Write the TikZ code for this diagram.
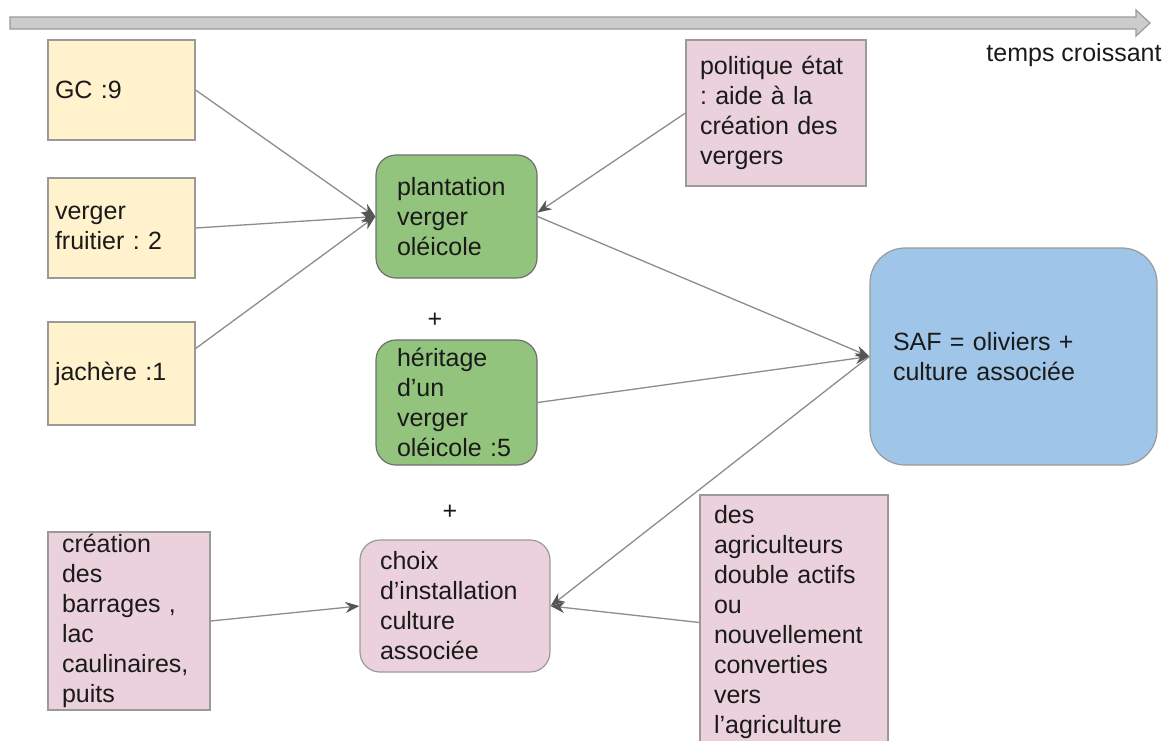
\documentclass[tikz,border=0pt]{standalone}
\usepackage{fontspec}
\setmainfont{Liberation Sans}
\usetikzlibrary{arrows.meta}
\usetikzlibrary{positioning}
\frenchspacing

\definecolor{jaune}{HTML}{FFF2CC}
\definecolor{vert}{HTML}{93C47D}
\definecolor{rose}{HTML}{EAD1DC}
\definecolor{bleu}{HTML}{9FC5E8}
\definecolor{bord}{HTML}{9A9A9A}
\definecolor{bordfonce}{HTML}{6E6E6E}
\definecolor{trait}{HTML}{8C8C8C}
\definecolor{pointe}{HTML}{555555}
\definecolor{barre}{HTML}{CCCCCC}
\definecolor{texte}{HTML}{1A1A1A}

\begin{document}
\begin{tikzpicture}[x=1pt,y=-1pt,>={Stealth[length=14pt,width=11pt,color=pointe]}]
						\tikzstyle{boite}=[draw=bord, line width=1.2pt, font=\fontsize{25}{30}\selectfont, align=left, inner ysep=2pt, text=texte]
						\tikzstyle{avant}=[boite, fill=jaune, inner xsep=7pt, text width=133pt, minimum height=100pt]
						\tikzstyle{oliv}=[boite, fill=vert, draw=bordfonce, rounded corners=20pt, inner xsep=21pt, text width=119pt]
						\tikzstyle{facteur}=[boite, fill=rose]
						\tikzstyle{fleche}=[draw=trait, line width=1.3pt, ->]
						\useasboundingbox (0,0) rectangle (1174,740);

						% fleche du temps
						\draw[fill=barre, draw=bord, line width=1.2pt] (10,17) -- (1136,17) -- (1136,10) -- (1150,23) -- (1136,36) -- (1136,29) -- (10,29) -- cycle;
						\node[font=\fontsize{25}{30}\selectfont, text=texte] (temps) at (1074,55) {temps croissant};

						\node[avant] 	(gc) at (121.5,90)        	{GC :9};
						\node[avant] 	(vf) at (121.5,228)       	{verger\\fruitier : 2};
						\node[avant, minimum height=103pt] (jach) at (121.5,373.5) {jachère :1};

						\node[oliv, minimum height=123pt] (plant) at (456.5,216.5) {plantation\\verger\\oléicole};
						\node[font=\fontsize{25}{30}\selectfont, text=texte] (plus1) at (435,320) {+};
						\node[oliv, minimum height=125pt] (herit) at (456.5,402.5) {héritage\\d’un\\verger\\oléicole :5};
						\node[font=\fontsize{25}{30}\selectfont, text=texte] (plus2) at (450,512) {+};
						\node[facteur, rounded corners=20pt, inner xsep=20pt, text width=150pt, minimum height=132pt] (choix) at (455,606) {choix\\d’installation\\culture\\associée};

						\node[facteur, inner xsep=14pt, text width=152pt, minimum height=146pt] (polit) at (776,113) {politique état\\: aide à la\\création des\\vergers};
						\node[facteur, inner xsep=14pt, text width=134pt, minimum height=178pt] (creat) at (129,621) {création\\des\\barrages ,\\lac\\caulinaires,\\puits};
						\node[facteur, inner xsep=14pt, text width=160pt, minimum height=255pt] (agri) at (794,622.5) {des\\agriculteurs\\double actifs\\ou\\nouvellement\\converties\\vers\\l’agriculture};

						\node[boite, fill=bleu, rounded corners=35pt, inner xsep=23pt, text width=241pt, minimum height=217pt] (saf) at (1013.5,356.5) {SAF = oliviers +\\culture associée};

 				  \path
					 (gc.east) edge[fleche] (plant.west)
					 (vf.east) edge[fleche] (plant.west)
					 ([yshift=25pt]jach.east) edge[fleche] (plant.west)
					 (polit.west) edge[fleche] ([yshift=4pt]plant.east)
					 (plant.east) edge[fleche] (saf.west)
					 (herit.east) edge[fleche] (saf.west)
					 (saf.west) edge[fleche] (choix.east)
					 (agri.west) edge[fleche] (choix.east)
					 (creat.east) edge[fleche] (choix.west);
				\end{tikzpicture}
\end{document}
